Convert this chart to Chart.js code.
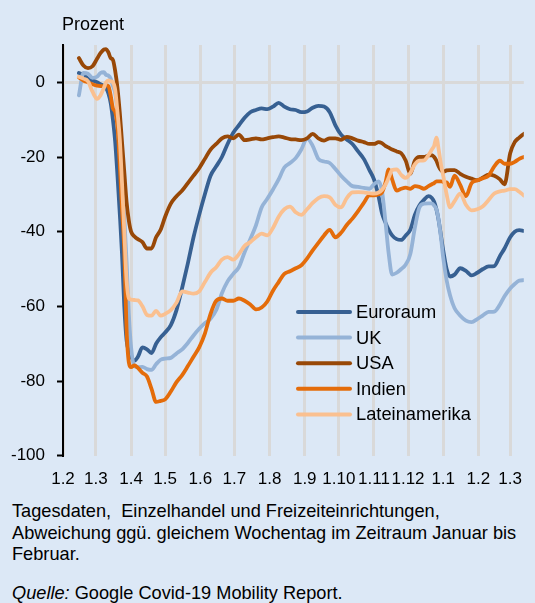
<!DOCTYPE html>
<html><head><meta charset="utf-8">
<script src="https://cdn.jsdelivr.net/npm/chart.js@4/dist/chart.umd.min.js"></script>
<style>
html,body{margin:0;padding:0;background:#dce8f6;width:535px;height:603px;overflow:hidden;}
#wrap{position:relative;width:535px;height:603px;}
canvas{position:absolute;left:0;top:0;}
.cap{position:absolute;left:12px;font-family:'Liberation Sans',Arial,sans-serif;font-size:18.2px;line-height:21.5px;color:#000;white-space:pre;}
</style></head>
<body><div id="wrap"><canvas id="c" width="535" height="490"></canvas>
<div class="cap" style="top:501px">Tagesdaten,  Einzelhandel und Freizeiteinrichtungen,
Abweichung ggü. gleichem Wochentag im Zeitraum Januar bis
Februar.</div>
<div class="cap" style="top:583px"><i>Quelle:</i> Google Covid-19 Mobility Report.</div>
</div>
<script>
// Sample dates (7-day smoothed daily data)
const dates = ['2020-02-15','2020-02-19','2020-02-23','2020-02-27','2020-03-02','2020-03-05','2020-03-08','2020-03-10','2020-03-12','2020-03-14',
'2020-03-16','2020-03-18','2020-03-20','2020-03-22','2020-03-24','2020-03-26','2020-03-28','2020-03-30','2020-04-01','2020-04-04',
'2020-04-07','2020-04-11','2020-04-15','2020-04-19','2020-04-23','2020-04-27','2020-05-01','2020-05-06','2020-05-11','2020-05-16',
'2020-05-21','2020-05-26','2020-05-31','2020-06-05','2020-06-10','2020-06-15','2020-06-20','2020-06-25','2020-06-30','2020-07-05',
'2020-07-10','2020-07-15','2020-07-20','2020-07-25','2020-07-30','2020-08-04','2020-08-09','2020-08-14','2020-08-19','2020-08-24',
'2020-08-29','2020-09-03','2020-09-08','2020-09-13','2020-09-18','2020-09-23','2020-09-28','2020-10-03','2020-10-08','2020-10-13',
'2020-10-18','2020-10-23','2020-10-28','2020-11-01','2020-11-05','2020-11-08','2020-11-11','2020-11-14','2020-11-17','2020-11-21',
'2020-11-25','2020-11-29','2020-12-03','2020-12-07','2020-12-11','2020-12-15','2020-12-19','2020-12-22','2020-12-24','2020-12-26',
'2020-12-28','2020-12-30','2021-01-01','2021-01-04','2021-01-07','2021-01-11','2021-01-16','2021-01-21','2021-01-26','2021-01-31',
'2021-02-05','2021-02-10','2021-02-15','2021-02-20','2021-02-24','2021-03-01','2021-03-05','2021-03-09','2021-03-13'];

const euroraum = [2.5,2,1,0.5,0,-0.5,-1,-1.5,-3,-5.5,
-10,-16,-25,-35,-46,-60,-69,-72,-73.5,-74.5,
-73.5,-71,-71.5,-72.5,-70,-68.3,-67,-65,-61,-55,
-48.5,-41.5,-35.5,-30,-25,-22.5,-20,-16.5,-13.5,-11.5,
-9.5,-8,-7.4,-7,-7.2,-6.5,-5.5,-6.5,-7.2,-7.4,
-8,-7.8,-6.8,-6.3,-6.5,-8,-11.5,-14,-15.3,-16.5,
-18.5,-20.5,-23.5,-26,-30.5,-35,-37.5,-39.5,-41,-42,
-42.2,-41,-39.5,-35.5,-33,-31.5,-30.5,-31,-32,-34,
-37,-41,-45,-50,-52,-51.5,-49.8,-50.5,-51.7,-51,
-50,-49.3,-49.2,-46.5,-44.5,-41.5,-40,-39.6,-39.8];

const uk = [-3.5,2.5,2.3,1.2,1.5,2.5,2.7,2,1.8,1,
-1,-3,-8,-16,-26,-36,-48,-62,-71,-76,
-76.3,-76.2,-76.8,-77,-75.5,-74.3,-74,-73.8,-72.6,-71.5,
-69.8,-67.8,-66,-64.5,-63.3,-61,-56.5,-53.3,-51.3,-49.5,
-45.5,-42,-38.3,-33.5,-31.2,-28.7,-26,-22.8,-21.6,-20.3,
-18,-15,-17,-20.5,-21.2,-21.6,-23.2,-25,-26.5,-27.8,
-28,-28.3,-28.5,-27.3,-26.5,-29,-37,-46,-51.5,-51,
-50,-48.8,-46,-39,-33.5,-32.5,-32.4,-32.4,-33,-34,
-37,-41.5,-47,-53,-57,-60.5,-62.5,-63.8,-64.2,-63.4,
-62.4,-61.5,-61.4,-59.5,-57.3,-55.2,-54,-53.1,-53];

const usa = [6.5,4.5,3.8,4.3,6.3,7.8,8.8,8.9,8,6.5,
6,3,-1.5,-8,-16,-24,-32,-37,-40,-41.3,
-42,-42.8,-44.5,-44.5,-41.5,-39.5,-36,-32.5,-30.5,-29,
-27,-25,-23,-20.5,-18,-16.5,-15,-14.5,-15,-14,
-15.5,-15.3,-15,-15.3,-15,-14.7,-14.5,-14.8,-15.2,-15.3,
-15.5,-15,-13.8,-15,-15.6,-15,-15,-15.4,-14.6,-15,
-15.6,-16,-16.5,-16.5,-16,-16.3,-17,-17.5,-18,-18.5,
-19,-21,-24.5,-21,-20,-20,-19.6,-19.5,-20,-21,
-22.5,-23.5,-24,-23.6,-23.5,-23.5,-24.5,-25.3,-25.8,-26.2,
-25.5,-24.7,-25,-26,-27.3,-19,-16,-14.8,-13.8];

const indien = [1.3,0.5,0,-0.5,-0.9,-1,-1,-0.8,-1,-3.5,
-7,-8,-12,-22,-34,-45,-66,-75,-76.3,-75.8,
-76.5,-77.8,-78.8,-82.1,-85.6,-85.3,-84.9,-82.8,-80.3,-78.4,
-76,-73.5,-71,-67.3,-62,-58.5,-57.9,-58.5,-58.5,-57.9,
-58.5,-59.5,-60.8,-60.3,-58.7,-55.8,-53.5,-51.3,-50.6,-49.8,
-49,-47.2,-45,-43,-41,-39.5,-41.5,-40.3,-38.2,-36.5,
-34.5,-32.3,-30.3,-30.3,-30,-29.5,-27,-23.3,-26,-29,
-28.5,-28.2,-28.5,-27.8,-28,-28.5,-27.8,-27.3,-27,-26.5,
-26.5,-26.5,-26.7,-26.8,-28,-25,-27.5,-30.5,-27,-26.3,
-25.7,-25,-22.5,-21,-21.8,-21.8,-21.3,-20.5,-20];

const lateinamerika = [1.5,1,0.3,-2.5,-4.4,-3.5,-1.5,0,0.5,0.3,
0,-2,-8,-15,-27,-40,-53,-57.8,-58.2,-58.3,
-58.4,-60,-62.3,-62.5,-61.2,-62.5,-62,-61,-59,-56,
-56.3,-56.6,-56,-53.5,-51,-49.5,-47.5,-46.8,-47.5,-46,
-43.8,-42.8,-41.5,-40.5,-41,-39,-36,-34,-33.3,-34.8,
-35.5,-34,-32.3,-31,-30.5,-30.8,-32.8,-33.5,-31,-29.5,
-29.4,-29.5,-29.7,-29.8,-29.5,-28.8,-27.5,-25.5,-23.5,-23.3,
-24.8,-25.6,-24.3,-22,-21,-20.9,-19.5,-18,-17,-14.8,
-18,-22,-25,-30,-33.5,-31.8,-29.8,-32.8,-34.3,-34,
-33.2,-31.5,-29.8,-29.2,-29,-28.6,-28.6,-29.3,-30.3];

const seriesNames = ['Euroraum','UK','USA','Indien','Lateinamerika'];
const tickDates = ['2020-02-01','2020-03-01','2020-04-01','2020-05-01','2020-06-01','2020-07-01','2020-08-01',
'2020-09-01','2020-10-01','2020-11-01','2020-12-01','2021-01-01','2021-02-01','2021-03-01'];
const tickLabels = ['1.2','1.3','1.4','1.5','1.6','1.7','1.8','1.9','1.10','1.11','1.12','1.1','1.2','1.3'];
const yTicks = [-100,-80,-60,-40,-20,0];
const startDate = '2020-02-01', endDate = '2021-03-13';

const dayOf = s => (Date.UTC(+s.slice(0,4), +s.slice(5,7)-1, +s.slice(8,10)) - Date.UTC(+startDate.slice(0,4), +startDate.slice(5,7)-1, +startDate.slice(8,10))) / 86400000;
const xs = dates.map(dayOf);
const pts = arr => arr.map((v,i)=>({x:xs[i], y:v}));

const colors = ['#376092','#95b3d7','#984807','#e46c0a','#fac090'];
const values = [euroraum, uk, usa, indien, lateinamerika];

const datasets = values.map((arr,i)=>({
  label: seriesNames[i], data: pts(arr), borderColor: colors[i], backgroundColor: colors[i],
  borderWidth: 3.8, pointRadius: 0, cubicInterpolationMode: 'monotone', fill: false,
  borderCapStyle: 'round', borderJoinStyle: 'round', order: 5 - i
}));

const FONT = "'Liberation Sans', Arial, sans-serif";

const extras = {
  id: 'extras',
  afterDatasetsDraw(chart){
    const ctx = chart.ctx, a = chart.chartArea;
    ctx.save();
    ctx.fillStyle = '#000';
    ctx.font = "18px " + FONT;
    ctx.textAlign = 'left';
    ctx.textBaseline = 'alphabetic';
    ctx.fillText('Prozent', a.left - 1, a.top - 15);
    // legend
    const lx0 = a.left + 235, lx1 = a.left + 287, tx = a.left + 293, y0 = a.top + 267, dy = 25.6;
    ctx.font = "18.3px " + FONT;
    ctx.textBaseline = 'middle';
    chart.data.datasets.forEach((ds,i)=>{
      const y = y0 + i*dy;
      ctx.strokeStyle = ds.borderColor; ctx.lineWidth = 4; ctx.lineCap = 'round';
      ctx.beginPath(); ctx.moveTo(lx0, y); ctx.lineTo(lx1, y); ctx.stroke();
      ctx.fillText(ds.label, tx, y + 1);
    });
    ctx.restore();
  }
};

new Chart(document.getElementById('c'), {
  type: 'line',
  data: { datasets },
  plugins: [extras],
  options: {
    responsive: false, animation: false, events: [],
    layout: { padding: { top: 45, left: 0, right: 0, bottom: 0 } },
    plugins: { legend: { display: false }, tooltip: { enabled: false } },
    scales: {
      x: {
        type: 'linear', min: 0, max: dayOf(endDate),
        afterBuildTicks: s => { s.ticks = tickDates.map(d => ({ value: dayOf(d) })); },
        afterFit: s => { s.height = 34.3; },
        border: { display: false },
        grid: { color: '#d9d9d9', lineWidth: 3, drawTicks: false },
        ticks: { autoSkip: false, maxRotation: 0, minRotation: 0, padding: 13, color: '#000',
          font: { family: "'Liberation Sans Narrow', 'Liberation Sans', Arial, sans-serif", size: 17 },
          callback: (v, i) => tickLabels[i] }
      },
      y: {
        min: -100, max: 10,
        afterBuildTicks: s => { s.ticks = yTicks.map(v => ({ value: v })); },
        afterFit: s => { s.width = 63; },
        border: { display: true, color: '#000', width: 2 },
        grid: { color: c => (c.tick && c.tick.value === 0) ? '#d9d9d9' : 'rgba(0,0,0,0)', lineWidth: 3,
          tickColor: '#000', tickLength: 6, tickWidth: 2, drawTicks: true },
        ticks: { padding: 12, color: '#000', font: { family: FONT, size: 17 }, callback: v => String(v) }
      }
    }
  }
});
</script>
</body></html>
